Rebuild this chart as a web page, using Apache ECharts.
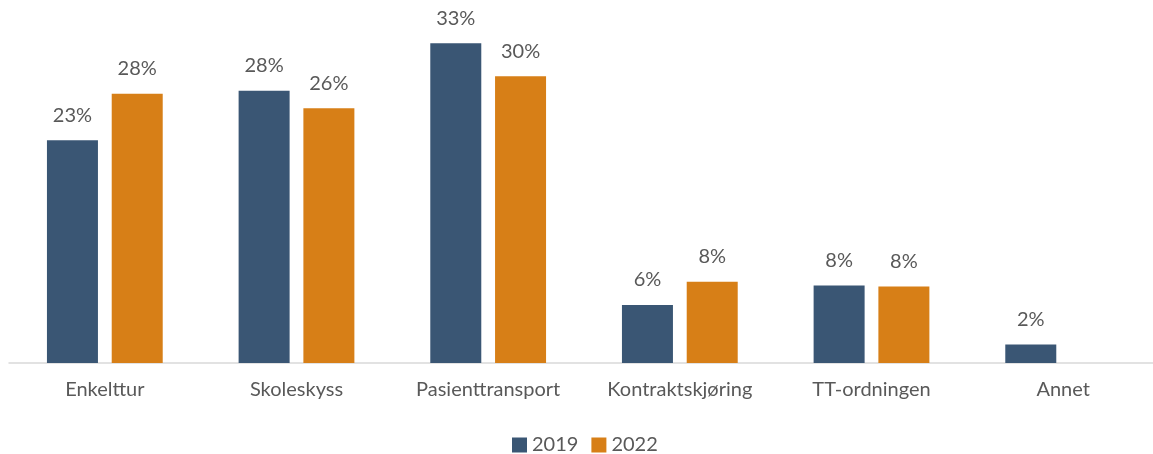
<!DOCTYPE html>
<html>
<head>
<meta charset="utf-8">
<script src="https://cdn.jsdelivr.net/npm/echarts@6/dist/echarts.min.js"></script>
<style>
	html, body { margin: 0; padding: 0; background: #fff; }
	#chart { width: 1153px; height: 454px; }
</style>
</head>
<body>
<div id="chart"></div>
<script>
var categories = ['Enkelttur', 'Skoleskyss', 'Pasienttransport', 'Kontraktskjøring', 'TT-ordningen', 'Annet'];
var years = ['2019', '2022'];
var values2019 = [23.0, 28.1, 33.0, 6.0, 8.0, 1.9];
var values2022 = [27.8, 26.3, 29.6, 8.4, 7.9, null];

var chart = echarts.init(document.getElementById('chart'));

var labelStyle = {
	show: true,
	position: 'top',
	distance: 15,
	color: '#595959',
	fontFamily: 'Lato',
	fontSize: 20,
	formatter: function (p) { return Math.round(p.value) + '%'; }
};

var option = {
	animation: false,
	grid: {
		left: 9,
		width: 1150,
		top: 24,
		height: 339,
		outerBoundsMode: 'none'
	},
	legend: {
		top: 435,
		left: 512,
		padding: 0,
		itemWidth: 15,
		itemHeight: 15,
		itemGap: 13,
		icon: 'rect',
		textStyle: { color: '#595959', fontFamily: 'Lato', fontSize: 20 },
		data: years
	},
	xAxis: {
		type: 'category',
		data: categories,
		axisLine: { lineStyle: { color: '#d9d9d9', width: 1.5 } },
		axisTick: { show: false },
		axisLabel: { color: '#595959', fontFamily: 'Lato', fontSize: 20, margin: 17 }
	},
	yAxis: {
		type: 'value',
		min: 0,
		max: 35,
		show: false,
		splitLine: { show: false }
	},
	series: [
		{
			name: years[0],
			type: 'bar',
			barWidth: 51,
			barGap: '27%',
			itemStyle: { color: '#3a5674' },
			label: labelStyle,
			data: values2019
		},
		{
			name: years[1],
			type: 'bar',
			barWidth: 51,
			barGap: '27%',
			itemStyle: { color: '#d77f17' },
			label: labelStyle,
			data: values2022
		}
	]
};

chart.setOption(option);
</script>
</body>
</html>
